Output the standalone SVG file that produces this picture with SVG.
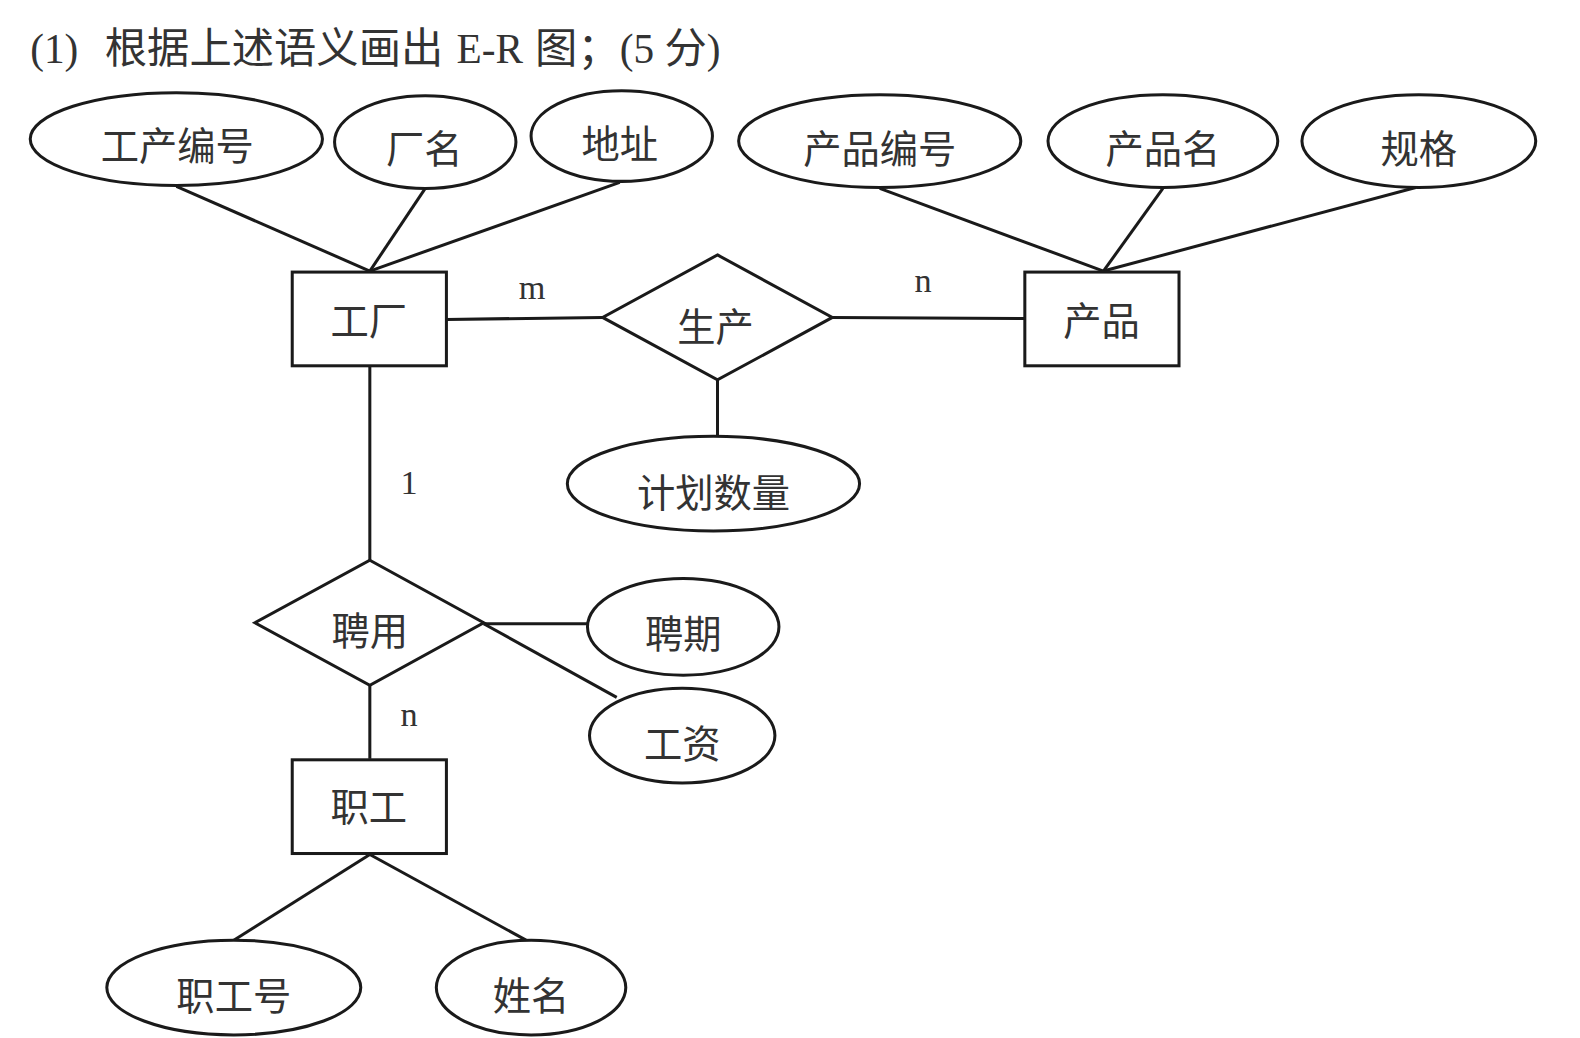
<svg xmlns="http://www.w3.org/2000/svg" width="1580" height="1038" viewBox="0 0 1580 1038">
<style>
.shape{fill:#fff;stroke:#1a1a1a;stroke-width:3}
.conn line{stroke:#1a1a1a;stroke-width:3}
.lbl{font-family:"Noto Sans CJK SC","Noto Sans",sans-serif;font-size:38px;fill:#333;text-anchor:middle;dominant-baseline:central}
.card{font-family:"Liberation Serif",serif;font-size:34px;fill:#333;text-anchor:middle}
.title{font-family:"Liberation Serif","Noto Sans CJK SC",serif;font-size:41px;fill:#333}
.tcjk{font-family:"Noto Sans CJK SC",sans-serif;font-size:42px}
</style>
<rect width="1580" height="1038" fill="#fff"/>
<g transform="scale(1.0077)">
<text class="title" y="63"><tspan x="30">(1)</tspan><tspan x="104" class="tcjk">根据上述语义画出</tspan><tspan x="453">E-R</tspan><tspan x="531" class="tcjk">图；</tspan><tspan>(5 </tspan><tspan class="tcjk">分</tspan><tspan>)</tspan></text>

<g class="conn" id="connectors">
<line x1="175" y1="185" x2="367" y2="269"/>
<line x1="422" y1="187" x2="367" y2="269"/>
<line x1="615" y1="181" x2="367" y2="269"/>
<line x1="873" y1="187" x2="1095" y2="269"/>
<line x1="1154" y1="187" x2="1095" y2="269"/>
<line x1="1405" y1="186" x2="1095" y2="269"/>
<line x1="443" y1="317" x2="598" y2="315"/>
<line x1="826" y1="315" x2="1017" y2="316"/>
<line x1="712" y1="377" x2="712" y2="433"/>
<line x1="367" y1="363" x2="367" y2="556"/>
<line x1="480" y1="619" x2="583" y2="619"/>
<line x1="480" y1="619" x2="612" y2="692"/>
<line x1="367" y1="680" x2="367" y2="753"/>
<line x1="367" y1="848" x2="232" y2="933"/>
<line x1="367" y1="848" x2="522" y2="933"/>
<text class="card" x="528" y="297">m</text>
<text class="card" x="916" y="290">n</text>
<text class="card" x="406" y="490">1</text>
<text class="card" x="406" y="720">n</text>
</g>

<g id="attr-factory-no"><ellipse class="shape" cx="175" cy="138" rx="145" ry="46"/><text class="lbl" x="176" y="142">工产编号</text></g>
<g id="attr-factory-name"><ellipse class="shape" cx="422" cy="141" rx="90" ry="46"/><text class="lbl" x="421" y="145">厂名</text></g>
<g id="attr-address"><ellipse class="shape" cx="617" cy="135" rx="90" ry="45"/><text class="lbl" x="615" y="140">地址</text></g>
<g id="attr-product-no"><ellipse class="shape" cx="873" cy="140" rx="140" ry="46"/><text class="lbl" x="873" y="145">产品编号</text></g>
<g id="attr-product-name"><ellipse class="shape" cx="1154" cy="140" rx="114" ry="46"/><text class="lbl" x="1154" y="145">产品名</text></g>
<g id="attr-spec"><ellipse class="shape" cx="1408" cy="140" rx="116" ry="46"/><text class="lbl" x="1408" y="145">规格</text></g>

<g id="factory"><rect class="shape" x="290" y="270" width="153" height="93"/><text class="lbl" x="366" y="316">工厂</text></g>
<g id="product"><rect class="shape" x="1017" y="270" width="153" height="93"/><text class="lbl" x="1093" y="316">产品</text></g>
<g id="produce"><polygon class="shape" points="712,253 826,315 712,377 598,315"/><text class="lbl" x="710" y="322">生产</text></g>
<g id="attr-plan-qty"><ellipse class="shape" cx="708" cy="480" rx="145" ry="47"/><text class="lbl" x="708" y="487">计划数量</text></g>
<g id="hire"><polygon class="shape" points="367,556 480,618 367,680 253,618"/><text class="lbl" x="367" y="624">聘用</text></g>
<g id="attr-term"><ellipse class="shape" cx="678" cy="622" rx="95" ry="48"/><text class="lbl" x="678" y="627">聘期</text></g>
<g id="attr-salary"><ellipse class="shape" cx="677" cy="730" rx="92" ry="47"/><text class="lbl" x="677" y="736">工资</text></g>
<g id="employee"><rect class="shape" x="290" y="754" width="153" height="93"/><text class="lbl" x="366" y="798">职工</text></g>
<g id="attr-emp-no"><ellipse class="shape" cx="232" cy="980" rx="126" ry="47"/><text class="lbl" x="232" y="986">职工号</text></g>
<g id="attr-emp-name"><ellipse class="shape" cx="527" cy="980" rx="94" ry="47"/><text class="lbl" x="527" y="986">姓名</text></g>
</g>
</svg>
